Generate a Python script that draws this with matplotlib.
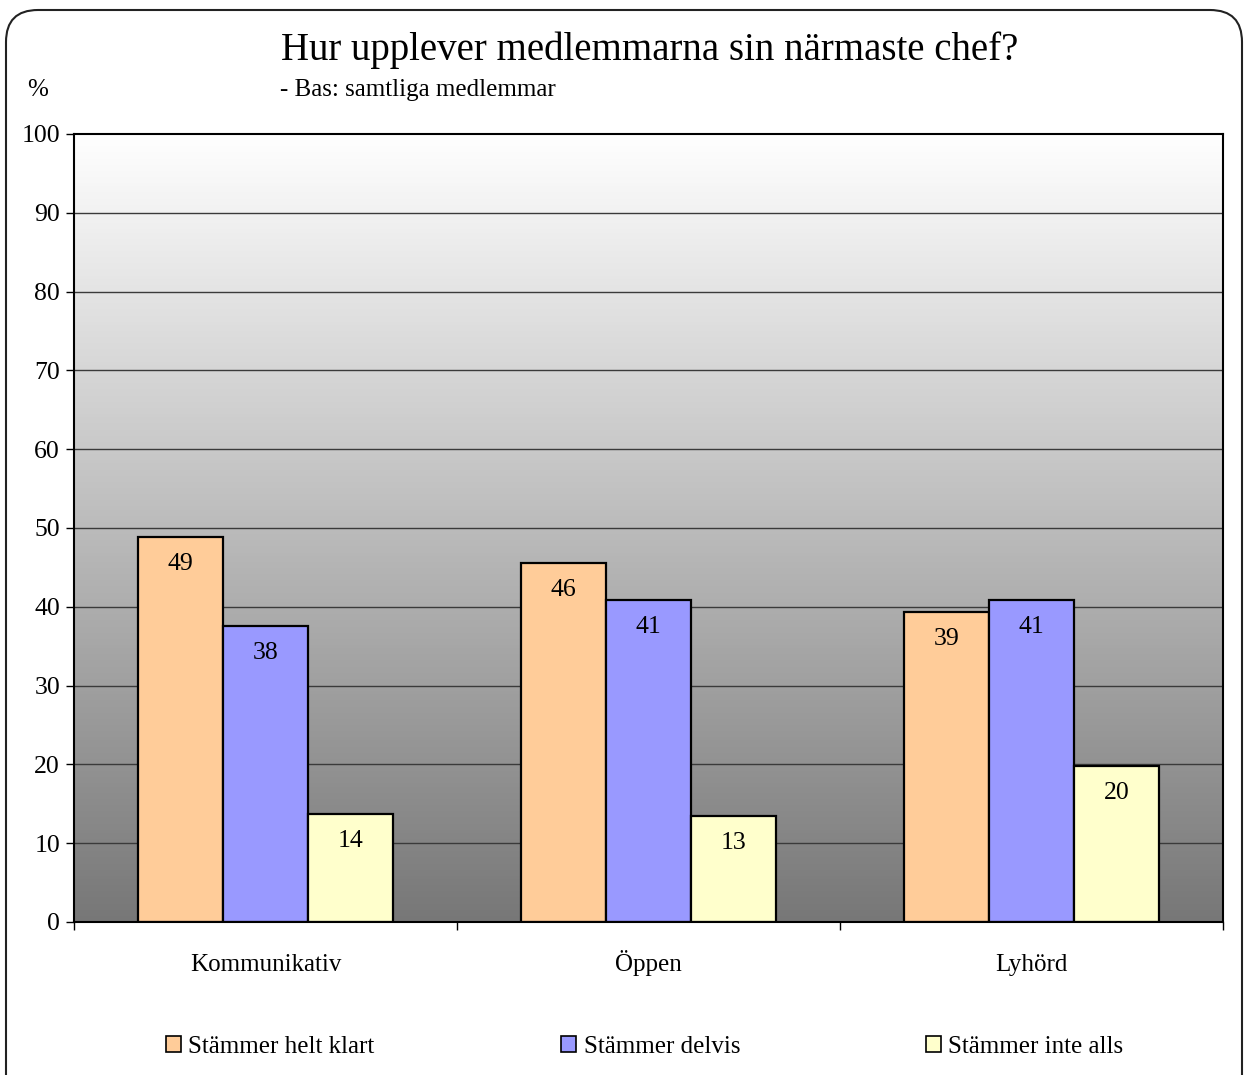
import numpy as np
import matplotlib.pyplot as plt
from matplotlib.patches import FancyBboxPatch, Patch
from matplotlib.colors import LinearSegmentedColormap
from matplotlib.transforms import IdentityTransform

plt.rcParams['font.family'] = ['Liberation Serif', 'DejaVu Serif']

# data
categories = ['Kommunikativ', 'Öppen', 'Lyhörd']
series_names = ['Stämmer helt klart', 'Stämmer delvis', 'Stämmer inte alls']
helt_klart = [48.9, 45.6, 39.3]
delvis = [37.6, 40.9, 40.9]
inte_alls = [13.7, 13.4, 19.8]
yticks = [0, 10, 20, 30, 40, 50, 60, 70, 80, 90, 100]

colors = ['#FFCC99', '#9999FF', '#FFFFCC']

fig = plt.figure(figsize=(12.44, 10.75), dpi=100)

# rounded outer frame, drawn in pixel coordinates
frame = FancyBboxPatch((6, -40), 1236, 1105, boxstyle='round,pad=0,rounding_size=32',
                       transform=IdentityTransform(), facecolor='none',
                       edgecolor='#222222', linewidth=1.5, zorder=-1)
fig.patches.append(frame)

ax = fig.add_axes([74/1244, 1 - 922/1075, (1223 - 74)/1244, (922 - 134)/1075])
ax.set_xlim(-0.5, 2.5)
ax.set_ylim(0, 100)

# grey gradient background
grad = np.linspace(0, 1, 256).reshape(-1, 1)
cmap = LinearSegmentedColormap.from_list('g', ['#777777', '#FFFFFF'])
ax.imshow(grad, extent=[-0.5, 2.5, 0, 100], aspect='auto', origin='lower',
          cmap=cmap, zorder=0)

for y in yticks[1:-1]:
    ax.axhline(y, color='#3a3a3a', linewidth=1, zorder=1)

x = np.arange(len(categories))
w = 0.222
for i, (vals, name) in enumerate(zip([helt_klart, delvis, inte_alls], series_names)):
    bars = ax.bar(x + (i - 1) * w, vals, w, color=colors[i], edgecolor='black',
                  linewidth=1.6, zorder=2, label=name)
    for b, v in zip(bars, vals):
        ax.annotate(f'{round(v)}', (b.get_x() + b.get_width() / 2, v),
                    xytext=(0, -19.5), textcoords='offset points',
                    ha='center', va='center', fontsize=18.5, zorder=3)

for s in ax.spines.values():
    s.set_color('black')
    s.set_linewidth(1.5)
    s.set_zorder(4)

ax.set_yticks(yticks)
ax.set_yticklabels([str(t) for t in yticks], fontsize=18.5)
ax.tick_params(axis='y', length=6, width=1, pad=4)
ax.set_xticks([-0.5, 0.5, 1.5, 2.5])
ax.set_xticklabels([])
ax.tick_params(axis='x', length=6, width=1)
for xi, c in zip(x, categories):
    ax.text(xi, -6.2, c, ha='center', va='baseline', fontsize=18)

fig.text(650/1244, 1 - 50/1075, 'Hur upplever medlemmarna sin närmaste chef?',
         ha='center', va='center', fontsize=28)
fig.text(280/1244, 1 - 90/1075, '- Bas: samtliga medlemmar', ha='left', va='center', fontsize=18)
fig.text(38/1244, 1 - 90/1075, '%', ha='center', va='center', fontsize=18)

# one legend entry per series, placed where the reference has them
legend_x = [166, 561, 926]
for c, name, lx in zip(colors, series_names, legend_x):
    h = Patch(facecolor=c, edgecolor='black', linewidth=1.2)
    fig.legend([h], [name], loc='center left', bbox_to_anchor=(lx/1244, 1 - 1047/1075),
               frameon=False, fontsize=18, handlelength=0.6, handleheight=0.6,
               handletextpad=0.3, borderpad=0, borderaxespad=0)

fig.savefig('out.png', dpi=100)
